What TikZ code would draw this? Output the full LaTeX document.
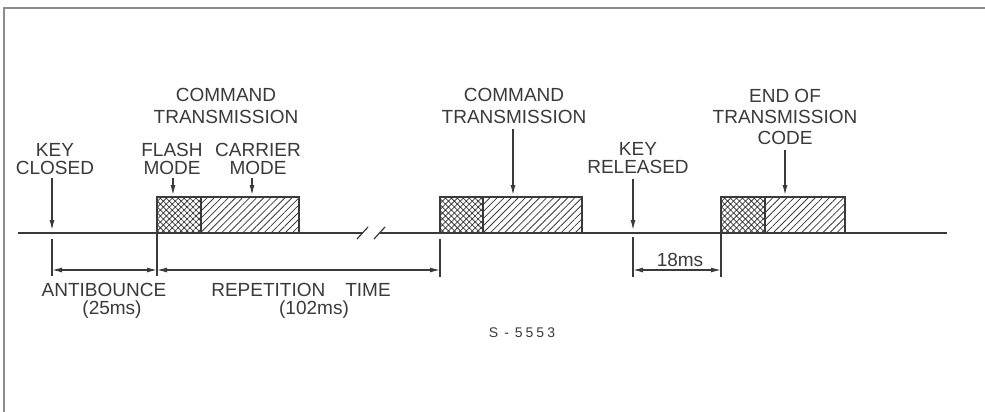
\documentclass[tikz,border=0pt]{standalone}
\usepackage{fontspec}
\setmainfont{Liberation Sans}
\usetikzlibrary{patterns.meta,arrows.meta}
\definecolor{ink}{HTML}{3A3A3A}
\definecolor{framec}{HTML}{8C8C8C}
\newcommand\pulsebox[3]{%
  \fill[pattern={Hatch[angle=45,distance=4.2pt,line width=0.75pt]},pattern color=ink] (#1,197) rectangle (#2,233);
  \fill[pattern={Lines[angle=45,distance=5pt,line width=0.8pt]},pattern color=ink] (#2,197) rectangle (#3,233);
  \draw[sig] (#1,233) -- (#1,197) -- (#3,197) -- (#3,233);
  \draw[sig] (#2,197) -- (#2,233);
}
\begin{document}
\begin{tikzpicture}[x=1pt,y=-1pt,
  sig/.style={draw=ink,line width=1.4pt},
  thin/.style={draw=ink,line width=1.2pt},
  arr/.style={draw=ink,line width=1.2pt,-{Latex[length=10pt,width=5pt]}},
  dim/.style={draw=ink,line width=1.2pt,{Latex[length=10pt,width=5pt]}-{Latex[length=10pt,width=5pt]}},
  lbl/.style={inner sep=0pt,align=center,text=ink},
]
\useasboundingbox (0,0) rectangle (985,412);
\fill[white] (0,0) rectangle (985,412);
% frame
\draw[framec,line width=1.6pt] (3,8) -- (985,8);
\draw[framec,line width=1.6pt] (4,8) -- (4,412);

% baseline with break
\draw[sig] (18,233) -- (363,233);
\draw[sig] (380,233) -- (947,233);
\draw[thin] (357,239) -- (368,227);
\draw[thin] (374,239) -- (385,227);

% pulses
\pulsebox{157}{201}{299}
\pulsebox{440}{483}{582}
\pulsebox{721}{765}{845}

% labels
\node[lbl,font=\fontsize{19}{17.5}\selectfont] (keyc) at (55,159) {KEY\\CLOSED};
\node[lbl,font=\fontsize{19}{22.5}\selectfont] (cmda) at (226,106) {COMMAND\\TRANSMISSION};
\node[lbl,font=\fontsize{19}{17.5}\selectfont] (flash) at (172,159) {FLASH\\MODE};
\node[lbl,font=\fontsize{19}{17.5}\selectfont] (carr) at (258,159) {CARRIER\\MODE};
\node[lbl,font=\fontsize{19}{22.5}\selectfont] (cmdb) at (514,106) {COMMAND\\TRANSMISSION};
\node[lbl,font=\fontsize{19}{18.5}\selectfont] (keyr) at (638,158) {KEY\\RELEASED};
\node[lbl,font=\fontsize{19}{21}\selectfont] (eot) at (785,117) {END OF\\TRANSMISSION\\CODE};
\node[lbl,font=\fontsize{19}{22}\selectfont] (anti) at (104,290) {ANTIBOUNCE};
\node[lbl,font=\fontsize{19}{22}\selectfont] (antims) at (112,310) {(25ms)};
\node[lbl,font=\fontsize{19}{22}\selectfont] (rep) at (301,290) {REPETITION\hspace{20pt}TIME};
\node[lbl,font=\fontsize{19}{22}\selectfont] (repms) at (314,310) {(102ms)};
\node[lbl,font=\fontsize{19}{22}\selectfont] (ms18) at (680,260) {18ms};
\node[lbl,font=\fontsize{14}{16}\selectfont] (fig) at (522,333) {S\hspace{6pt}-\hspace{6pt}5\hspace{3pt}5\hspace{3pt}5\hspace{3pt}3};

% arrow targets
\coordinate (kcT) at (52,230);
\coordinate (flT) at (173,195);
\coordinate (caT) at (252,195);
\coordinate (cbT) at (513,195);
\coordinate (krT) at (633,230);
\coordinate (eoT) at (785,195);

\draw[arr] (kcT |- 0,178) -- (kcT);
\draw[arr] (flT |- 0,178) -- (flT);
\draw[arr] (caT |- 0,178) -- (caT);
\draw[arr] (cbT |- cmdb.south) ++(0,5) -- (cbT);
\draw[arr] (krT |- keyr.south) ++(0,5) -- (krT);
\draw[arr] (eoT |- eot.south) ++(0,5) -- (eoT);

% dimension ticks
\coordinate (d1) at (52,270);
\coordinate (d2) at (157,270);
\coordinate (d3) at (440,270);
\coordinate (d4) at (633,270);
\coordinate (d5) at (721,270);
\draw[thin] (52,239) -- (52,276);
\draw[thin] (157,233) -- (157,276);
\draw[thin] (440,239) -- (440,277);
\draw[thin] (633,237) -- (633,277);
\draw[thin] (721,233) -- (721,277);

\draw[dim] (d1) -- (d2);
\draw[dim] (d2) -- (d3);
\draw[dim] (d4) -- (d5);
\end{tikzpicture}
\end{document}
